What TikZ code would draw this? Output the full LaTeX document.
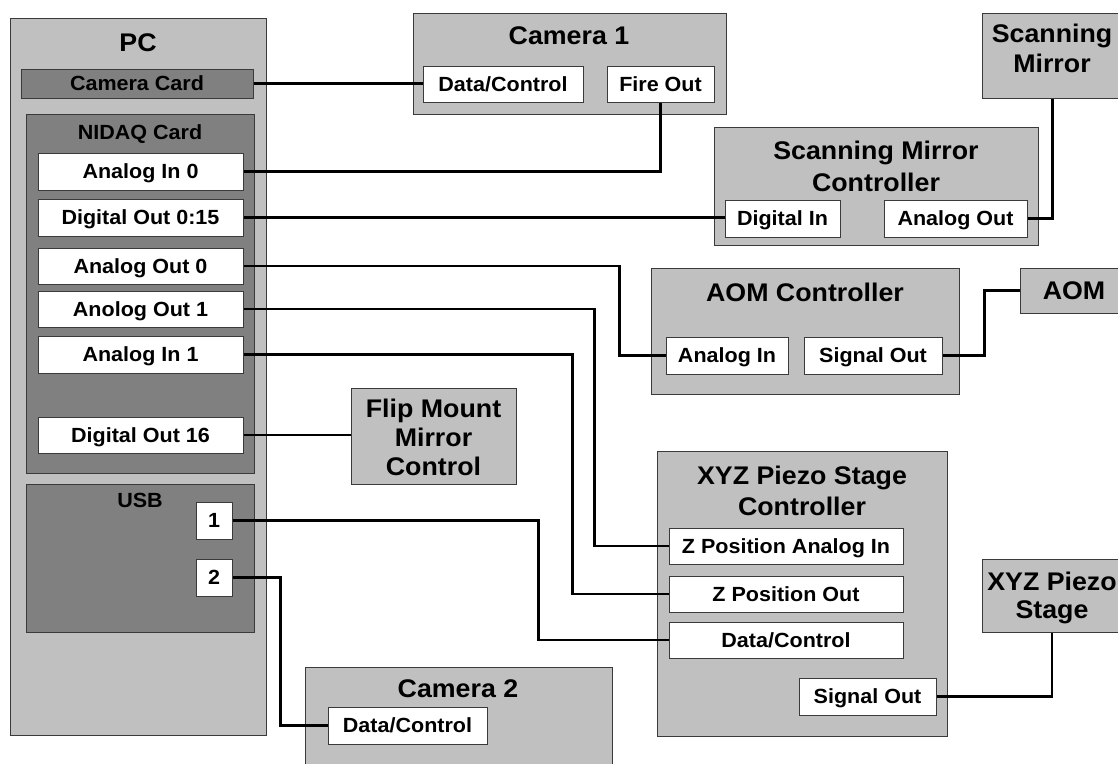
\documentclass[tikz,border=0pt]{standalone}
\usepackage{fontspec}
\setmainfont{Liberation Sans}[FakeStretch=1.05]
\usetikzlibrary{calc}
\definecolor{lgray}{HTML}{C0C0C0}
\definecolor{dgray}{HTML}{808080}
\definecolor{edge}{HTML}{3A3A3A}
\newcommand\lblfont{\bfseries\fontsize{20.5}{23}\selectfont}
\newcommand\ttlfont{\bfseries\fontsize{25.5}{30}\selectfont}
% \abox{style}{x1}{y1}{x2}{y2}{name}{text}
\newcommand\abox[7]{\node[#1, minimum width={#4-#2}, minimum height={#5-#3}] (#6) at ({(#2+#4)/2},{(#3+#5)/2}) {#7};}
\tikzset{
  ltbox/.style={draw=edge, fill=lgray, line width=1pt, inner sep=0pt},
  dkbox/.style={draw=edge, fill=dgray, line width=1pt, inner sep=0pt},
  cardbox/.style={dkbox, font=\lblfont, text height=14.7pt, text depth=0pt},
  port/.style={draw=edge, fill=white, line width=1pt, inner sep=0pt, font=\lblfont, text height=14.7pt, text depth=0pt},
  lbl/.style={font=\lblfont, inner sep=0pt, text height=14.7pt, text depth=0pt},
  ttl/.style={font=\ttlfont, inner sep=0pt, text height=18.3pt, text depth=0pt},
  ttlm/.style={font=\ttlfont, inner sep=0pt, align=center},
  wire/.style={line width=2.4pt, black},
}
\begin{document}
\begin{tikzpicture}[x=1pt,y=-1pt]
\useasboundingbox (0,0) rectangle (1118,763);
\clip (0,0) rectangle (1118,763);
\fill[white] (0,0) rectangle (1118,763);
% PC
\abox{ltbox}{10}{18}{266}{735}{pc}{}
\node[ttl] (pct) at (138,42) {PC};
\abox{cardbox}{21}{69}{253}{98}{camcard}{Camera Card}
\abox{dkbox}{26}{114}{254}{473}{nidaq}{}
\node[lbl] (nidaqt) at (140,132) {NIDAQ Card};
\abox{port}{38}{153}{243}{190}{ai0}{Analog In 0}
\abox{port}{38}{199}{243}{236}{do015}{Digital Out 0:15}
\abox{port}{38}{248}{243}{284}{ao0}{Analog Out 0}
\abox{port}{38}{291}{243}{327}{ao1}{Anolog Out 1}
\abox{port}{38}{336}{243}{373}{ai1}{Analog In 1}
\abox{port}{38}{417}{243}{453}{do16}{Digital Out 16}
\abox{dkbox}{26}{484}{254}{632}{usb}{}
\node[lbl] (usbt) at (140,500) {USB};
\abox{port}{196}{502}{232}{539}{usb1}{1}
\abox{port}{196}{559}{232}{596}{usb2}{2}
% Camera 1
\abox{ltbox}{413}{13}{726}{114}{cam1}{}
\node[ttl] (cam1t) at (569,35) {Camera 1};
\abox{port}{423}{66}{583}{102}{cam1dc}{Data/Control}
\abox{port}{607}{66}{714}{102}{fireout}{Fire Out}
% Scanning mirror controller
\abox{ltbox}{714}{127}{1038}{245}{smc}{}
\node[ttlm, font=\bfseries\fontsize{25.5}{32}\selectfont] (smct) at (876,166) {Scanning Mirror\\Controller};
\abox{port}{725}{200}{840}{237}{smdi}{Digital In}
\abox{port}{884}{200}{1027}{237}{smao}{Analog Out}
% Scanning mirror
\abox{ltbox}{982}{13}{1123}{98}{sm}{}
\node[ttlm] (smt) at (1052,48) {Scanning\\Mirror};
% AOM controller
\abox{ltbox}{651}{268}{959}{394}{aomc}{}
\node[ttl] (aomct) at (805,292) {AOM Controller};
\abox{port}{666}{337}{788}{374}{aomin}{Analog In}
\abox{port}{804}{337}{942}{374}{aomso}{Signal Out}
% AOM
\abox{ltbox}{1020}{268}{1128}{313}{aom}{}
\node[ttl] (aomt) at (1074,290.5) {AOM};
% Flip mount
\abox{ltbox}{351}{388}{516}{484}{flip}{}
\node[ttlm, font=\bfseries\fontsize{25.5}{29}\selectfont] (flipt) at (433.5,437) {Flip Mount\\Mirror\\Control};
% XYZ controller
\abox{ltbox}{657}{451}{947}{736}{xyzc}{}
\node[ttlm, font=\bfseries\fontsize{25.5}{31}\selectfont] (xyzct) at (802,491) {XYZ Piezo Stage\\Controller};
\abox{port}{669}{528}{903}{564}{zpai}{Z Position Analog In}
\abox{port}{669}{576}{903}{612}{zpo}{Z Position Out}
\abox{port}{669}{622}{903}{658}{zdc}{Data/Control}
\abox{port}{799}{678}{936}{715}{xyzso}{Signal Out}
% XYZ stage
\abox{ltbox}{982}{559}{1122}{632}{xyz}{}
\node[ttlm, font=\bfseries\fontsize{25.5}{28}\selectfont] (xyzt) at (1052,597.5) {XYZ Piezo\\Stage};
% Camera 2
\abox{ltbox}{305}{667}{612}{775}{cam2}{}
\node[ttl] (cam2t) at (458,688) {Camera 2};
\abox{port}{328}{707}{487}{744}{cam2dc}{Data/Control}
% wires
\draw[wire] (camcard.east) -- (camcard.east -| cam1dc.west);
\draw[wire] (ai0.east) -| (fireout.south);
\draw[wire] (do015.east) -- (do015.east -| smdi.west);
\draw[wire] (smao.east) -| (sm.south);
\draw[wire] (ao0.east) -- ++(376,0) |- (aomin.west);
\draw[wire] (aomso.east) -- ++(42,0) |- (aom.west);
\draw[wire] (ao1.east) -- ++(351,0) |- (zpai.west);
\draw[wire] (ai1.east) -- ++(329,0) |- (zpo.west);
\draw[wire] (do16.east) -- (do16.east -| flip.west);
\draw[wire] (usb1.east) -- ++(306,0) |- (zdc.west);
\draw[wire] (usb2.east) -- ++(48,0) |- (cam2dc.west);
\draw[wire] (xyzso.east) -| (xyz.south);
\end{tikzpicture}
\end{document}
